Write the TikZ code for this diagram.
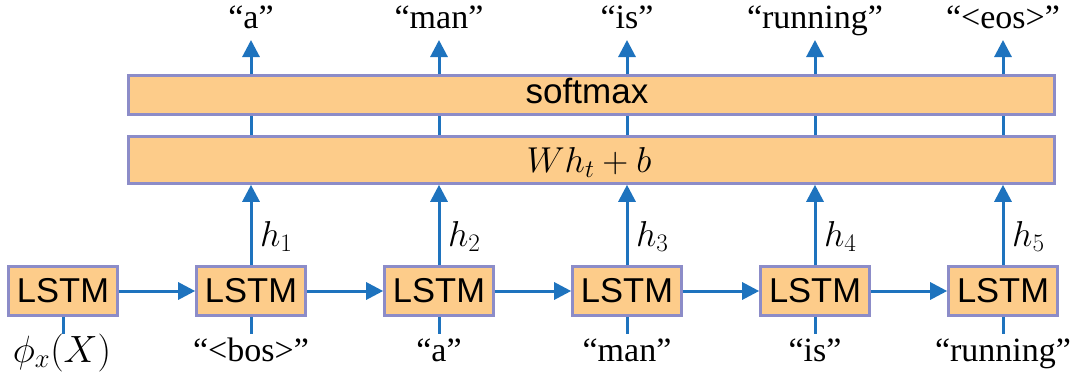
\RequirePackage{fix-cm}
\documentclass[tikz,border=0pt]{standalone}
\usepackage{fontspec}
\setmainfont{Liberation Serif}
\newfontfamily\boxfont{Liberation Sans}
\usetikzlibrary{arrows.meta}

\definecolor{boxfill}{RGB}{253,204,138}
\definecolor{boxedge}{RGB}{140,140,200}
\definecolor{flow}{RGB}{30,115,190}

\tikzset{
  cell/.style={draw=boxedge, fill=boxfill, line width=2.6pt,
    minimum width=109pt, minimum height=49pt, inner sep=0pt,
    font=\boxfont\fontsize{34.5}{40}\selectfont},
  layer/.style={draw=boxedge, fill=boxfill, line width=2.6pt,
    minimum width=926pt, inner sep=0pt},
  flowline/.style={draw=flow, line width=3pt},
  arr/.style={flowline, -{Triangle[width=17pt,length=17pt]}},
  word/.style={anchor=base, inner sep=0pt, font=\fontsize{34}{40}\selectfont},
  hlab/.style={anchor=base west, inner sep=0pt, font=\fontsize{36}{42}\selectfont},
}

\begin{document}
\begin{tikzpicture}[x=1pt, y=-1pt]
\useasboundingbox (0,0) rectangle (1077,378);

% output layers
\node[layer, minimum height=47pt] (wh) at (591.5,160) {};
\node[anchor=base, inner sep=0pt, font=\fontsize{36}{42}\selectfont]
  (whtext) at (589,172) {$Wh_t + b$};
\node[layer, minimum height=39pt] (sm) at (591.5,95) {};
\node[anchor=base, inner sep=0pt, font=\boxfont\fontsize{35}{40}\selectfont]
  (smtext) at (587,103) {softmax};

% LSTM chain
\node[cell] (l0) at (63,291) {LSTM};
\foreach \i in {1,...,5} {
  \node[cell] (l\i) at (63+188*\i,291) {LSTM};
}
\foreach \i [evaluate=\i as \j using int(\i-1)] in {1,...,5} {
  \draw[arr] (l\j.east) -- (l\i.west);
}

% inputs below the cells
\node[word, font=\fontsize{38}{44}\selectfont] (in0) at (62,362) {$\phi_x(X)$};
\node[word] (in1) at (251,361) {“<bos>”};
\node[word] (in2) at (439,361) {“a”};
\node[word] (in3) at (627,361) {“man”};
\node[word] (in4) at (815,361) {“is”};
\node[word] (in5) at (1003,361) {“running”};
\foreach \i in {0,...,5} {
  \coordinate (b\i) at (63+188*\i,334);
  \draw[flowline] (l\i.south) -- (b\i);
}

% hidden states up to the output layers, then the predicted words
\node[word] (o1) at (251,28) {“a”};
\node[word] (o2) at (439,28) {“man”};
\node[word] (o3) at (627,28) {“is”};
\node[word] (o4) at (815,28) {“running”};
\node[word] (o5) at (1003,28) {“<eos>”};
\foreach \i in {1,...,5} {
  \draw[arr] (l\i.north) -- (l\i.north |- wh.south);
  \node[hlab] (h\i) at (63+188*\i+9,246) {$h_{\i}$};
  \draw[flowline] (l\i.north |- wh.north) -- (l\i.north |- sm.south);
  \coordinate (t\i) at (63+188*\i,40);
  \draw[arr] (l\i.north |- sm.north) -- (t\i);
}
\end{tikzpicture}
\end{document}
